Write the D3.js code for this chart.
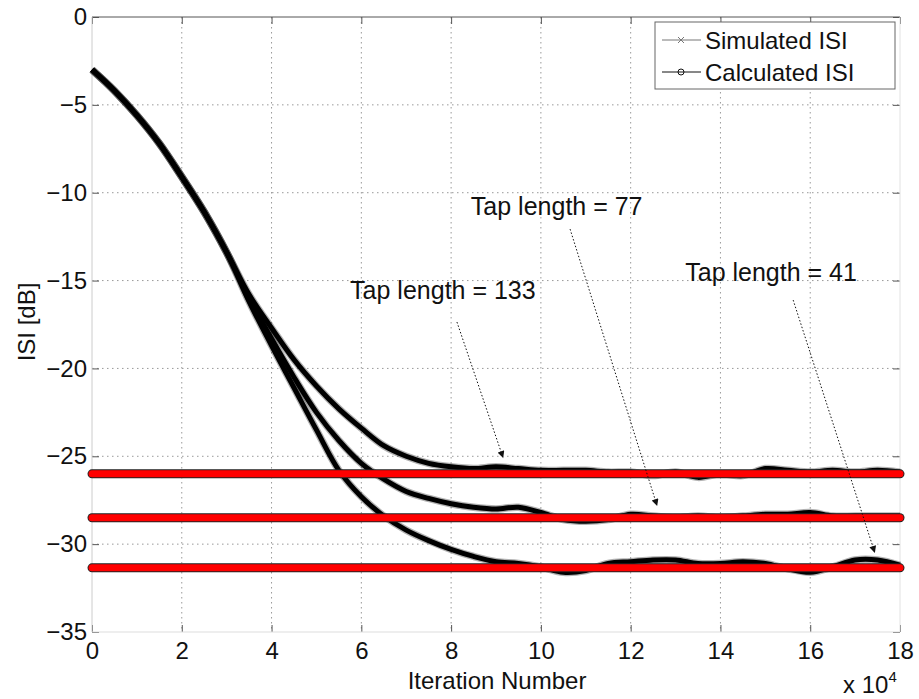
<!DOCTYPE html>
<html><head><meta charset="utf-8">
<script src="https://cdn.jsdelivr.net/npm/d3@7"></script>
<style>
body{margin:0;background:#fff}
text{font-family:"Liberation Sans",Arial,Helvetica,sans-serif;fill:#111}
</style>
</head><body>
<svg id="chart" width="919" height="699"></svg>
<script>
// ---------- data ----------
const xTicks = [0,2,4,6,8,10,12,14,16,18];
const yTicks = [-35,-30,-25,-20,-15,-10,-5,0];
const iterations = [0,0.5,1,1.5,2,2.5,3,3.5,4,4.5,5,5.5,6,6.5,7,7.5,8,8.5,9,9.5,10,10.5,11,11.5,12,12.5,13,13.5,14,14.5,15,15.5,16,16.5,17,17.5,18];
const simTap133 = [-3.0,-4.2,-5.6,-7.2,-9.1,-11.1,-13.4,-15.8,-17.7,-19.5,-21.0,-22.3,-23.4,-24.4,-25.0,-25.4,-25.6,-25.7,-25.6,-25.7,-25.8,-25.8,-25.8,-25.9,-25.9,-26.1,-25.9,-26.2,-26.0,-26.1,-25.7,-25.8,-25.9,-25.8,-25.9,-25.8,-25.9];
const simTap77  = [-3.0,-4.2,-5.6,-7.2,-9.1,-11.1,-13.4,-16.0,-18.3,-20.5,-22.5,-24.1,-25.4,-26.3,-27.0,-27.4,-27.7,-27.9,-28.0,-27.9,-28.2,-28.6,-28.7,-28.6,-28.3,-28.4,-28.5,-28.4,-28.5,-28.4,-28.3,-28.3,-28.2,-28.4,-28.4,-28.4,-28.4];
const simTap41  = [-3.0,-4.2,-5.6,-7.2,-9.1,-11.1,-13.4,-16.2,-18.7,-21.1,-23.5,-25.8,-27.3,-28.4,-29.2,-29.8,-30.3,-30.7,-31.0,-31.1,-31.3,-31.6,-31.5,-31.1,-31.0,-30.9,-30.9,-31.1,-31.1,-31.0,-31.1,-31.4,-31.6,-31.3,-30.9,-30.9,-31.2];
const calcLevels = [-26.0,-28.5,-31.35];
const legendLabels = ["Simulated ISI","Calculated ISI"];
const tapLabels = ["Tap length = 133","Tap length = 77","Tap length = 41"];
// annotation anchors in data units: [text x, text y, anchor, arrow x0, y0, arrow x1, y1]
const tapAnchors = [
  [5.75,-16.05,"start", 8.13,-17.36, 9.16,-25.1],
  [8.44,-11.27,"start", 10.65,-12.07, 12.59,-27.83],
  [17.04,-15.02,"end", 15.62,-16.11, 17.44,-30.5]
];

// ---------- layout ----------
const svg = d3.select("#chart");
const L=92, R=900, T=17, B=632;
const x = d3.scaleLinear().domain([0,18]).range([L,R]);
const y = d3.scaleLinear().domain([-35,0]).range([B,T]);
const FS = 24, AFS = 25;

svg.append("rect").attr("width",919).attr("height",699).attr("fill","#fff");

// grid
const g = svg.append("g");
g.selectAll(".vg").data(xTicks.slice(1,-1)).join("line")
  .attr("x1",d=>x(d)).attr("x2",d=>x(d)).attr("y1",T).attr("y2",B)
  .attr("stroke","#999").attr("stroke-width",1).attr("stroke-dasharray","1.5,3.5");
g.selectAll(".hg").data(yTicks.slice(1,-1)).join("line")
  .attr("y1",d=>y(d)).attr("y2",d=>y(d)).attr("x1",L).attr("x2",R)
  .attr("stroke","#999").attr("stroke-width",1).attr("stroke-dasharray","1.5,3.5");

// axes with inward ticks
const xAxB = d3.axisBottom(x).tickValues(xTicks).tickSize(-7).tickPadding(10).tickFormat(d3.format("d"));
const xAxT = d3.axisTop(x).tickValues(xTicks).tickSize(-7).tickFormat("");
const yAxL = d3.axisLeft(y).tickValues(yTicks).tickSize(-7).tickPadding(5).tickFormat(d=>d<0?"\u2212"+Math.abs(d):d);
const yAxR = d3.axisRight(y).tickValues(yTicks).tickSize(-7).tickFormat("");
function style(sel){
  sel.selectAll(".domain").remove();
  sel.selectAll(".tick line").attr("stroke","#555");
  sel.selectAll(".tick text").attr("font-size",FS).attr("fill","#111")
     .attr("font-family","Liberation Sans, Arial, sans-serif");
}
svg.append("g").attr("transform",`translate(0,${B})`).call(xAxB).call(style);
svg.append("g").attr("transform",`translate(0,${T})`).call(xAxT).call(style);
svg.append("g").attr("transform",`translate(${L},0)`).call(yAxL).call(style);
svg.append("g").attr("transform",`translate(${R},0)`).call(yAxR).call(style);

// frame
svg.append("line").attr("x1",L).attr("x2",R).attr("y1",T).attr("y2",T).attr("stroke","#555");
svg.append("line").attr("x1",L).attr("x2",R).attr("y1",B).attr("y2",B).attr("stroke","#ddd");
svg.append("line").attr("x1",L).attr("x2",L).attr("y1",T).attr("y2",B).attr("stroke","#ccc");
svg.append("line").attr("x1",R).attr("x2",R).attr("y1",T).attr("y2",B).attr("stroke","#e2e2e2");

// simulated curves
const line = d3.line().x((d,i)=>x(iterations[i])).y(d=>y(d)).curve(d3.curveCatmullRom);
const sims = [simTap133, simTap77, simTap41];
const cg = svg.append("g");
cg.selectAll(".fuzz").data(sims).join("path")
  .attr("d",line).attr("fill","none").attr("stroke","#000").attr("stroke-opacity",0.3).attr("stroke-width",7.5);
cg.selectAll(".core").data(sims).join("path")
  .attr("d",line).attr("fill","none").attr("stroke","#000").attr("stroke-width",5);

// calculated levels
const rg = svg.append("g");
rg.selectAll(".cb").data(calcLevels).join("line")
  .attr("x1",x(0)).attr("x2",x(18)).attr("y1",d=>y(d)).attr("y2",d=>y(d))
  .attr("stroke","#222").attr("stroke-width",9).attr("stroke-linecap","round");
rg.selectAll(".cr").data(calcLevels).join("line")
  .attr("x1",x(0)).attr("x2",x(18)).attr("y1",d=>y(d)).attr("y2",d=>y(d))
  .attr("stroke","#f00").attr("stroke-width",7).attr("stroke-linecap","round");

// arrows
svg.append("defs").append("marker").attr("id","ah").attr("viewBox","0 0 10 10")
  .attr("refX",10).attr("refY",5).attr("markerWidth",9).attr("markerHeight",7)
  .attr("markerUnits","userSpaceOnUse").attr("orient","auto")
  .append("path").attr("d","M0,0 L10,5 L0,10 Z").attr("fill","#111");
const ag = svg.append("g");
tapAnchors.forEach((a,i)=>{
  ag.append("text").attr("x",x(a[0])).attr("y",y(a[1])).attr("text-anchor",a[2]).attr("font-size",AFS).text(tapLabels[i]);
  ag.append("line").attr("x1",x(a[3])).attr("y1",y(a[4])).attr("x2",x(a[5])).attr("y2",y(a[6]))
    .attr("stroke","#111").attr("stroke-width",1).attr("stroke-dasharray","1.5,2").attr("marker-end","url(#ah)");
});

// legend
const lgX = 655, lgR = 895, lgY = 22, lgB = 89;
const lg = svg.append("g");
lg.append("rect").attr("x",lgX).attr("y",lgY).attr("width",lgR-lgX).attr("height",lgB-lgY)
  .attr("fill","#fff").attr("stroke","#666");
legendLabels.forEach((t,i)=>{
  const yy = 40 + i*32;
  lg.append("line").attr("x1",lgX+7).attr("x2",lgX+46).attr("y1",yy).attr("y2",yy)
    .attr("stroke", i===0?"#777":"#111").attr("stroke-width",1);
  if(i===0){
    lg.append("path").attr("d",`M${lgX+23},${yy-3}L${lgX+29},${yy+3}M${lgX+23},${yy+3}L${lgX+29},${yy-3}`)
      .attr("stroke","#777").attr("stroke-width",1);
  } else {
    lg.append("circle").attr("cx",lgX+26).attr("cy",yy).attr("r",3).attr("fill","none").attr("stroke","#111");
  }
  lg.append("text").attr("x",705).attr("y",yy+9).attr("font-size",FS).text(t);
});

// axis labels
svg.append("text").attr("x",497).attr("y",689).attr("text-anchor","middle").attr("font-size",FS).text("Iteration Number");
svg.append("text").attr("transform","translate(35,322) rotate(-90)").attr("text-anchor","middle").attr("font-size",FS).text("ISI [dB]");
const ex = svg.append("text").attr("x",843).attr("y",693).attr("font-size",FS);
ex.append("tspan").text("x 10");
ex.append("tspan").attr("dy",-11).attr("font-size",15).text("4");
</script>
</body></html>
